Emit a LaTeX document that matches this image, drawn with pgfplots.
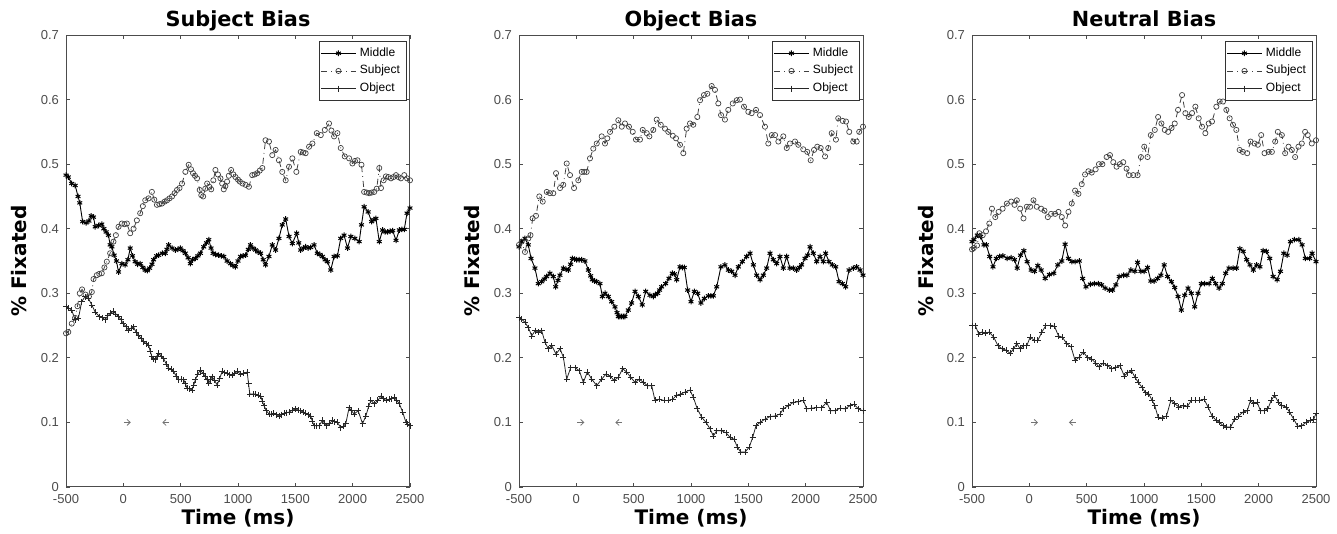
\documentclass[border=0pt]{standalone}
\usepackage{fontspec}
\setmainfont{Liberation Sans}
\newfontfamily\djv{DejaVu Sans}
\usepackage{pgfplots}
\pgfplotsset{compat=1.18}
\usetikzlibrary{arrows.meta}

\pgfplotsset{
  panel/.style={
    scale only axis, width=172pt, height=226pt,
    xmin=-500, xmax=2500, ymin=0, ymax=0.7,
    xtick={-500,0,500,1000,1500,2000,2500},
    ytick={0,0.1,0.2,0.3,0.4,0.5,0.6,0.7},
    tick align=inside, tick pos=both,
    xticklabel pos=lower, yticklabel pos=left,
    major tick length=2pt,
    scaled ticks=false,
    /pgf/number format/1000 sep={},
    /pgf/number format/assume math mode=true,
    tick label style={font=\fontsize{6.5}{7.5}\selectfont, text=black!70},
    axis line style={black!70, line width=0.5pt},
    every tick/.style={black!70, line width=0.4pt},
    every axis title shift=0pt,
    title style={font=\djv\bfseries\fontsize{10.4}{12}\selectfont, at={(0.5,1)}, anchor=base, yshift=4.5pt},
    xlabel style={font=\djv\bfseries\fontsize{10}{11}\selectfont, at={(axis description cs:0.5,0)}, anchor=base, yshift=-18.8pt},
    ylabel style={font=\djv\bfseries\fontsize{10}{11}\selectfont, at={(axis description cs:-0.1134,0.5)}, anchor=base},
    xlabel={Time (ms)}, ylabel={\% Fixated},
    legend cell align=left,
    legend style={at={(1,1)}, anchor=north east, xshift=-1.8pt, yshift=-3pt,
      font=\fontsize{6}{7}\selectfont, draw=black!80, line width=0.4pt,
      inner xsep=1pt, inner ysep=1pt, row sep=-1pt},
  },
  middle/.style={black, line width=0.45pt, mark=asterisk, mark size=1.4pt, mark options={solid, line width=0.5pt}},
  subject/.style={black!75, line width=0.4pt, dash dot, mark=o, mark size=1.3pt, mark options={solid, line width=0.35pt}},
  object/.style={black!85, line width=0.4pt, mark=+, mark size=1.5pt, mark options={solid, line width=0.4pt}},
  arr/.style={black!55, line width=0.4pt, no marks, forget plot},
}

\begin{document}
\begin{tikzpicture}
\useasboundingbox (0,0) rectangle (668.5pt,267pt);

% ---------- Subject Bias ----------
\begin{axis}[panel, at={(33pt,23.5pt)}, anchor=south west, title={Subject Bias}]
\addplot[middle] coordinates {
(-500,0.483)(-480,0.480)(-450,0.470)(-420,0.467)(-395,0.450)(-380,0.440)(-355,0.411)(-325,0.409)(-300,0.412)(-280,0.420)(-260,0.418)(-245,0.403)(-215,0.405)(-188,0.407)(-170,0.400)(-150,0.395)(-130,0.390)(-115,0.375)(-100,0.372)(-80,0.359)(-60,0.350)(-42,0.333)(-13,0.346)(16,0.344)(40,0.352)(60,0.370)(80,0.358)(103,0.349)(125,0.345)(147,0.346)(170,0.340)(191,0.336)(210,0.335)(229,0.339)(250,0.345)(264,0.352)(290,0.358)(308,0.359)(340,0.362)(366,0.362)(380,0.368)(395,0.375)(425,0.370)(453,0.367)(475,0.368)(497,0.370)(520,0.366)(541,0.362)(565,0.355)(585,0.346)(605,0.352)(628,0.354)(650,0.358)(672,0.362)(701,0.372)(725,0.378)(745,0.383)(765,0.370)(783,0.362)(805,0.360)(832,0.359)(855,0.358)(876,0.357)(905,0.350)(934,0.346)(955,0.343)(978,0.341)(1000,0.350)(1022,0.357)(1045,0.358)(1066,0.359)(1090,0.368)(1109,0.375)(1130,0.370)(1153,0.367)(1175,0.364)(1197,0.362)(1220,0.352)(1240,0.344)(1270,0.357)(1299,0.375)(1328,0.367)(1357,0.385)(1386,0.406)(1416,0.415)(1445,0.388)(1474,0.377)(1512,0.393)(1530,0.378)(1547,0.367)(1570,0.370)(1590,0.372)(1612,0.370)(1634,0.371)(1663,0.375)(1692,0.362)(1715,0.360)(1736,0.357)(1760,0.352)(1780,0.349)(1809,0.336)(1838,0.357)(1867,0.358)(1896,0.385)(1925,0.390)(1955,0.370)(1984,0.388)(2019,0.385)(2057,0.380)(2077,0.406)(2100,0.434)(2135,0.426)(2165,0.411)(2185,0.414)(2203,0.416)(2232,0.380)(2261,0.398)(2283,0.395)(2305,0.395)(2327,0.396)(2349,0.397)(2378,0.382)(2407,0.398)(2430,0.399)(2450,0.399)(2474,0.424)(2500,0.432)
};
\addplot[subject] coordinates {
(-500,0.238)(-480,0.240)(-450,0.253)(-421,0.262)(-400,0.280)(-380,0.300)(-360,0.306)(-330,0.298)(-300,0.295)(-275,0.302)(-260,0.322)(-232,0.328)(-210,0.330)(-188,0.331)(-165,0.340)(-144,0.349)(-115,0.362)(-86,0.380)(-65,0.390)(-42,0.403)(-13,0.408)(10,0.407)(31,0.408)(60,0.393)(89,0.400)(118,0.413)(147,0.424)(170,0.435)(191,0.444)(220,0.447)(249,0.457)(270,0.445)(293,0.437)(315,0.438)(337,0.439)(360,0.442)(381,0.444)(403,0.447)(425,0.450)(447,0.455)(468,0.460)(490,0.463)(512,0.470)(541,0.488)(570,0.499)(590,0.492)(608,0.486)(625,0.482)(643,0.478)(666,0.460)(680,0.452)(696,0.450)(715,0.462)(731,0.470)(750,0.465)(766,0.461)(785,0.475)(803,0.491)(825,0.484)(847,0.478)(862,0.470)(876,0.461)(890,0.466)(905,0.473)(920,0.482)(940,0.491)(960,0.484)(978,0.480)(1000,0.476)(1016,0.473)(1040,0.470)(1066,0.468)(1095,0.465)(1124,0.483)(1145,0.484)(1168,0.486)(1190,0.490)(1212,0.494)(1240,0.537)(1270,0.535)(1299,0.514)(1328,0.522)(1357,0.506)(1386,0.488)(1416,0.475)(1445,0.496)(1474,0.509)(1509,0.488)(1547,0.519)(1568,0.518)(1590,0.517)(1620,0.527)(1649,0.532)(1687,0.548)(1722,0.545)(1757,0.553)(1794,0.563)(1815,0.552)(1838,0.543)(1867,0.548)(1896,0.525)(1931,0.512)(1969,0.509)(1998,0.501)(2020,0.505)(2042,0.506)(2077,0.499)(2100,0.457)(2122,0.456)(2144,0.455)(2165,0.456)(2188,0.457)(2210,0.462)(2232,0.494)(2247,0.463)(2270,0.475)(2290,0.481)(2312,0.480)(2334,0.478)(2356,0.480)(2378,0.483)(2400,0.480)(2421,0.478)(2450,0.483)(2475,0.478)(2500,0.475)
};
\addplot[object] coordinates {
(-500,0.279)(-475,0.277)(-450,0.274)(-421,0.259)(-392,0.261)(-363,0.287)(-334,0.295)(-305,0.292)(-275,0.282)(-246,0.271)(-208,0.264)(-180,0.262)(-159,0.259)(-135,0.265)(-115,0.269)(-86,0.272)(-65,0.268)(-42,0.264)(-20,0.259)(1,0.253)(25,0.248)(45,0.243)(67,0.246)(89,0.248)(110,0.240)(133,0.235)(155,0.230)(177,0.225)(200,0.222)(220,0.220)(235,0.210)(249,0.202)(265,0.199)(278,0.197)(293,0.203)(308,0.207)(330,0.203)(352,0.199)(375,0.190)(395,0.184)(418,0.182)(439,0.179)(460,0.172)(483,0.166)(505,0.167)(527,0.166)(541,0.160)(556,0.153)(580,0.152)(600,0.150)(614,0.158)(628,0.166)(650,0.175)(672,0.181)(695,0.176)(716,0.171)(730,0.166)(745,0.161)(760,0.166)(774,0.171)(796,0.165)(818,0.158)(840,0.168)(862,0.179)(883,0.177)(905,0.176)(927,0.174)(949,0.173)(971,0.176)(993,0.179)(1022,0.175)(1050,0.176)(1080,0.178)(1092,0.160)(1103,0.144)(1130,0.144)(1153,0.144)(1175,0.142)(1197,0.141)(1212,0.133)(1226,0.126)(1248,0.118)(1270,0.113)(1292,0.113)(1313,0.114)(1335,0.112)(1357,0.110)(1380,0.112)(1401,0.114)(1423,0.115)(1445,0.116)(1475,0.119)(1503,0.121)(1525,0.119)(1547,0.118)(1570,0.116)(1590,0.114)(1612,0.112)(1634,0.110)(1648,0.102)(1663,0.095)(1685,0.095)(1707,0.095)(1736,0.103)(1755,0.099)(1774,0.095)(1800,0.099)(1823,0.103)(1845,0.101)(1867,0.100)(1896,0.092)(1918,0.094)(1940,0.098)(1969,0.123)(1990,0.118)(2013,0.113)(2048,0.118)(2086,0.098)(2115,0.110)(2140,0.125)(2159,0.134)(2188,0.129)(2220,0.134)(2247,0.141)(2268,0.137)(2290,0.134)(2320,0.136)(2342,0.137)(2363,0.139)(2385,0.134)(2407,0.129)(2436,0.116)(2465,0.100)(2480,0.097)(2500,0.095)
};
\legend{Middle,Subject,Object}
\addplot[arr, -{Straight Barb[length=1.6pt,width=3pt]}] coordinates {(5,0.1)(65,0.1)};
\addplot[arr, -{Straight Barb[length=1.6pt,width=3pt]}] coordinates {(400,0.1)(340,0.1)};
\end{axis}

% ---------- Object Bias ----------
\begin{axis}[panel, at={(259.5pt,23.5pt)}, anchor=south west, title={Object Bias}]
\addplot[middle] coordinates {
(-500,0.372)(-477,0.380)(-448,0.385)(-419,0.375)(-395,0.354)(-361,0.339)(-332,0.315)(-302,0.318)(-280,0.322)(-259,0.326)(-230,0.331)(-201,0.326)(-180,0.310)(-160,0.320)(-143,0.328)(-113,0.339)(-90,0.337)(-70,0.336)(-50,0.345)(-35,0.354)(-15,0.353)(3,0.352)(25,0.352)(46,0.352)(75,0.350)(105,0.336)(125,0.327)(139,0.321)(160,0.319)(177,0.318)(206,0.315)(227,0.295)(250,0.300)(279,0.295)(308,0.287)(337,0.279)(355,0.270)(366,0.264)(380,0.264)(395,0.264)(410,0.264)(424,0.264)(453,0.274)(482,0.285)(512,0.303)(541,0.295)(575,0.282)(605,0.303)(642,0.297)(671,0.295)(690,0.298)(709,0.300)(726,0.305)(744,0.310)(779,0.315)(808,0.323)(837,0.331)(856,0.330)(875,0.321)(904,0.341)(925,0.340)(942,0.340)(971,0.305)(1000,0.287)(1029,0.303)(1058,0.300)(1087,0.285)(1116,0.292)(1151,0.296)(1173,0.296)(1195,0.296)(1224,0.310)(1261,0.341)(1296,0.344)(1326,0.336)(1355,0.334)(1384,0.328)(1413,0.341)(1448,0.349)(1485,0.357)(1515,0.362)(1544,0.344)(1573,0.328)(1602,0.321)(1631,0.328)(1660,0.339)(1689,0.362)(1718,0.352)(1747,0.346)(1776,0.357)(1805,0.339)(1834,0.357)(1863,0.339)(1892,0.339)(1921,0.336)(1945,0.340)(1965,0.344)(1994,0.354)(2017,0.359)(2038,0.372)(2067,0.362)(2096,0.349)(2125,0.357)(2154,0.349)(2174,0.362)(2203,0.349)(2232,0.344)(2262,0.341)(2291,0.318)(2320,0.315)(2349,0.310)(2378,0.336)(2416,0.339)(2445,0.341)(2474,0.336)(2500,0.328)
};
\addplot[subject] coordinates {
(-500,0.375)(-477,0.380)(-448,0.364)(-419,0.385)(-400,0.390)(-381,0.416)(-352,0.420)(-323,0.450)(-293,0.442)(-258,0.457)(-230,0.455)(-201,0.455)(-177,0.486)(-142,0.463)(-114,0.468)(-84,0.501)(-55,0.483)(-20,0.463)(17,0.475)(47,0.488)(68,0.488)(90,0.488)(119,0.509)(148,0.524)(178,0.532)(221,0.543)(250,0.532)(270,0.540)(294,0.550)(331,0.558)(366,0.568)(396,0.558)(424,0.563)(459,0.558)(492,0.550)(520,0.538)(555,0.538)(579,0.553)(614,0.548)(637,0.543)(671,0.553)(701,0.569)(736,0.561)(773,0.555)(802,0.550)(841,0.544)(869,0.540)(904,0.530)(933,0.517)(962,0.555)(991,0.563)(1020,0.561)(1055,0.573)(1079,0.599)(1113,0.607)(1142,0.609)(1180,0.621)(1209,0.615)(1238,0.594)(1262,0.576)(1296,0.569)(1325,0.584)(1364,0.594)(1399,0.599)(1427,0.600)(1462,0.589)(1500,0.581)(1529,0.579)(1567,0.584)(1602,0.576)(1645,0.558)(1674,0.532)(1704,0.545)(1733,0.545)(1762,0.535)(1805,0.543)(1835,0.525)(1863,0.532)(1907,0.535)(1936,0.530)(1979,0.523)(2014,0.519)(2044,0.506)(2073,0.522)(2101,0.527)(2131,0.525)(2169,0.512)(2197,0.525)(2227,0.548)(2264,0.538)(2284,0.571)(2323,0.567)(2352,0.566)(2380,0.550)(2415,0.535)(2445,0.535)(2467,0.550)(2500,0.558)
};
\addplot[object] coordinates {
(-500,0.262)(-477,0.260)(-448,0.255)(-419,0.247)(-389,0.234)(-360,0.242)(-331,0.240)(-302,0.242)(-273,0.224)(-244,0.214)(-215,0.219)(-177,0.206)(-142,0.214)(-113,0.201)(-84,0.167)(-49,0.185)(-11,0.185)(26,0.180)(61,0.162)(96,0.178)(134,0.167)(178,0.157)(221,0.167)(259,0.175)(294,0.172)(329,0.165)(366,0.170)(404,0.183)(439,0.178)(474,0.170)(512,0.162)(550,0.167)(584,0.162)(619,0.157)(657,0.157)(686,0.134)(724,0.136)(764,0.134)(802,0.134)(840,0.136)(875,0.142)(910,0.144)(948,0.147)(991,0.150)(1020,0.139)(1055,0.121)(1093,0.108)(1131,0.100)(1166,0.090)(1195,0.079)(1224,0.087)(1268,0.087)(1305,0.084)(1340,0.077)(1375,0.074)(1404,0.062)(1433,0.054)(1471,0.054)(1509,0.062)(1538,0.077)(1567,0.095)(1602,0.100)(1645,0.105)(1689,0.109)(1733,0.110)(1776,0.113)(1805,0.121)(1849,0.126)(1892,0.131)(1936,0.132)(1980,0.134)(2009,0.121)(2052,0.122)(2096,0.123)(2140,0.123)(2183,0.131)(2218,0.118)(2256,0.118)(2300,0.122)(2343,0.121)(2387,0.126)(2422,0.128)(2460,0.121)(2500,0.118)
};
\legend{Middle,Subject,Object}
\addplot[arr, -{Straight Barb[length=1.6pt,width=3pt]}] coordinates {(10,0.1)(70,0.1)};
\addplot[arr, -{Straight Barb[length=1.6pt,width=3pt]}] coordinates {(400,0.1)(340,0.1)};
\end{axis}

% ---------- Neutral Bias ----------
\begin{axis}[panel, at={(486pt,23.5pt)}, anchor=south west, title={Neutral Bias}]
\addplot[middle] coordinates {
(-500,0.380)(-483,0.383)(-454,0.390)(-425,0.388)(-396,0.375)(-375,0.375)(-346,0.357)(-317,0.341)(-288,0.354)(-259,0.357)(-230,0.358)(-193,0.354)(-158,0.355)(-129,0.352)(-106,0.339)(-77,0.359)(-48,0.366)(-19,0.349)(16,0.336)(45,0.334)(74,0.343)(103,0.336)(138,0.323)(175,0.329)(213,0.331)(248,0.344)(283,0.350)(312,0.376)(341,0.354)(370,0.349)(399,0.349)(436,0.350)(465,0.323)(494,0.310)(532,0.314)(567,0.315)(601,0.315)(630,0.313)(660,0.308)(697,0.305)(726,0.305)(755,0.313)(784,0.326)(822,0.328)(851,0.328)(886,0.336)(921,0.334)(944,0.348)(973,0.334)(1002,0.334)(1031,0.340)(1060,0.319)(1089,0.319)(1118,0.323)(1147,0.328)(1176,0.344)(1205,0.326)(1239,0.318)(1268,0.309)(1297,0.295)(1326,0.274)(1355,0.297)(1384,0.308)(1413,0.300)(1442,0.279)(1471,0.300)(1500,0.315)(1529,0.315)(1567,0.315)(1596,0.323)(1625,0.315)(1654,0.308)(1683,0.315)(1712,0.331)(1741,0.339)(1778,0.339)(1807,0.339)(1836,0.369)(1865,0.365)(1895,0.352)(1924,0.344)(1953,0.336)(1982,0.344)(2011,0.341)(2039,0.366)(2068,0.365)(2097,0.354)(2126,0.326)(2161,0.321)(2190,0.334)(2219,0.362)(2248,0.359)(2277,0.380)(2312,0.383)(2350,0.383)(2379,0.375)(2407,0.354)(2445,0.354)(2466,0.362)(2500,0.349)
};
\addplot[subject] coordinates {
(-500,0.368)(-485,0.370)(-456,0.374)(-436,0.393)(-407,0.390)(-378,0.396)(-349,0.408)(-326,0.431)(-297,0.418)(-268,0.426)(-233,0.431)(-196,0.439)(-158,0.442)(-129,0.437)(-109,0.444)(-80,0.431)(-51,0.416)(-22,0.434)(7,0.434)(36,0.444)(65,0.434)(103,0.431)(132,0.428)(161,0.418)(190,0.423)(225,0.423)(254,0.426)(283,0.418)(312,0.405)(341,0.426)(370,0.439)(399,0.459)(428,0.454)(457,0.469)(486,0.484)(515,0.489)(544,0.487)(578,0.492)(607,0.500)(637,0.500)(674,0.511)(703,0.514)(732,0.503)(761,0.496)(790,0.500)(819,0.503)(848,0.493)(868,0.483)(906,0.483)(944,0.483)(973,0.511)(1002,0.527)(1031,0.511)(1059,0.545)(1094,0.553)(1123,0.573)(1152,0.563)(1181,0.553)(1210,0.550)(1240,0.556)(1268,0.563)(1297,0.584)(1332,0.607)(1361,0.579)(1390,0.573)(1419,0.579)(1448,0.589)(1477,0.571)(1506,0.558)(1535,0.548)(1564,0.563)(1593,0.566)(1631,0.589)(1660,0.597)(1689,0.597)(1718,0.584)(1747,0.571)(1776,0.561)(1805,0.553)(1834,0.522)(1862,0.519)(1900,0.517)(1929,0.535)(1964,0.532)(1993,0.530)(2022,0.545)(2051,0.517)(2086,0.519)(2115,0.519)(2144,0.535)(2167,0.550)(2202,0.545)(2231,0.517)(2260,0.527)(2289,0.522)(2318,0.511)(2347,0.527)(2376,0.532)(2405,0.550)(2428,0.545)(2463,0.532)(2500,0.537)
};
\addplot[object] coordinates {
(-500,0.250)(-471,0.250)(-442,0.237)(-413,0.240)(-384,0.238)(-349,0.240)(-311,0.232)(-274,0.219)(-239,0.214)(-204,0.212)(-167,0.207)(-138,0.214)(-109,0.222)(-80,0.214)(-51,0.219)(-22,0.219)(7,0.232)(45,0.227)(74,0.227)(109,0.240)(144,0.250)(181,0.250)(219,0.249)(254,0.234)(288,0.232)(326,0.222)(364,0.217)(399,0.196)(434,0.201)(471,0.209)(509,0.200)(544,0.198)(578,0.192)(607,0.186)(645,0.192)(683,0.188)(718,0.183)(752,0.185)(790,0.188)(828,0.172)(857,0.177)(892,0.180)(921,0.170)(950,0.162)(984,0.154)(1013,0.146)(1042,0.144)(1071,0.134)(1094,0.126)(1123,0.108)(1158,0.107)(1196,0.110)(1234,0.134)(1268,0.129)(1303,0.124)(1341,0.126)(1379,0.125)(1413,0.134)(1448,0.134)(1486,0.134)(1523,0.136)(1558,0.124)(1593,0.110)(1631,0.103)(1660,0.100)(1689,0.095)(1718,0.093)(1756,0.093)(1790,0.105)(1825,0.110)(1863,0.116)(1900,0.118)(1929,0.134)(1958,0.129)(1987,0.131)(2016,0.118)(2051,0.118)(2080,0.121)(2109,0.134)(2138,0.142)(2173,0.131)(2202,0.126)(2240,0.124)(2269,0.116)(2306,0.105)(2341,0.094)(2376,0.095)(2413,0.100)(2451,0.103)(2480,0.105)(2500,0.114)
};
\legend{Middle,Subject,Object}
\addplot[arr, -{Straight Barb[length=1.6pt,width=3pt]}] coordinates {(15,0.1)(75,0.1)};
\addplot[arr, -{Straight Barb[length=1.6pt,width=3pt]}] coordinates {(405,0.1)(345,0.1)};
\end{axis}
\end{tikzpicture}
\end{document}
